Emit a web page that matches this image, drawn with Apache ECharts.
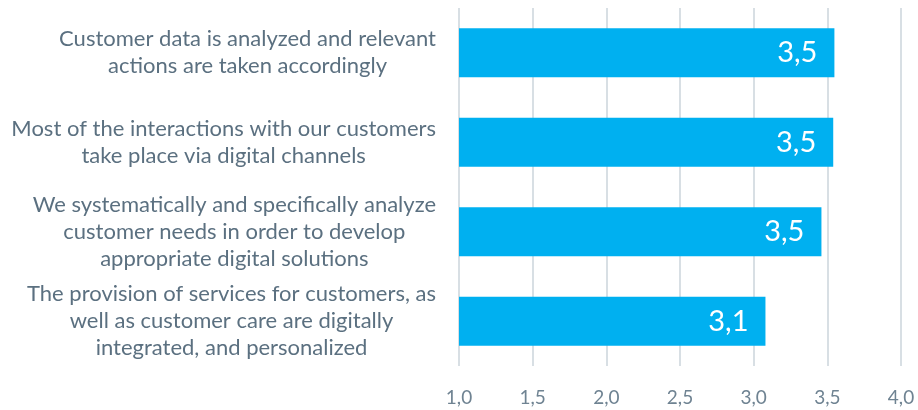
<!DOCTYPE html>
<html>
<head>
<meta charset="utf-8">
<script src="https://cdn.jsdelivr.net/npm/echarts@6/dist/echarts.min.js"></script>
<style>
  html, body { margin: 0; padding: 0; background: #fff; }
  #chart { width: 918px; height: 410px; }
</style>
</head>
<body>
<div id="chart"></div>
<script>
var categories = [
  'Customer data is analyzed and relevant\nactions are taken accordingly',
  'Most of the interactions with our customers\ntake place via digital channels',
  'We systematically and specifically analyze\ncustomer needs in order to develop\nappropriate digital solutions',
  'The provision of services for customers, as\nwell as customer care are digitally\nintegrated, and personalized'
];
var values = [3.548, 3.54, 3.46, 3.08];
var ticks = [1, 1.5, 2, 2.5, 3, 3.5, 4];

function comma(v) {
  return v.toFixed(1).replace('.', ',');
}

var chart = echarts.init(document.getElementById('chart'));
chart.setOption({
  animation: false,
  grid: { left: 459, right: 17, top: 8, bottom: 44 },
  xAxis: {
    type: 'value',
    min: ticks[0],
    max: ticks[ticks.length - 1],
    interval: 0.5,
    axisLine: { show: false },
    axisTick: { show: false },
    splitLine: { lineStyle: { color: '#d8dfe4', width: 2 } },
    axisLabel: {
      margin: 22,
      fontFamily: 'Lato',
      fontSize: 19,
      color: '#6f8392',
      formatter: comma
    }
  },
  yAxis: {
    type: 'category',
    inverse: true,
    data: categories,
    axisLine: { show: false },
    axisTick: { show: false },
    axisLabel: {
      margin: 23,
      formatter: function (v) {
        return v.split('\n').map(function (l) { return '{a|' + l + '}'; }).join('\n');
      },
      rich: {
        a: {
          align: 'center',
          fontFamily: 'Lato',
          fontSize: 22,
          lineHeight: 27,
          color: '#5b7080'
        }
      }
    }
  },
  series: [{
    type: 'bar',
    data: values,
    barWidth: 49,
    itemStyle: { color: '#00b0f0' },
    label: {
      show: true,
      position: 'insideRight',
      distance: 17,
      color: '#fff',
      fontFamily: 'Lato',
      fontSize: 29,
      formatter: function (p) { return comma(p.value); }
    }
  }]
});
</script>
</body>
</html>
